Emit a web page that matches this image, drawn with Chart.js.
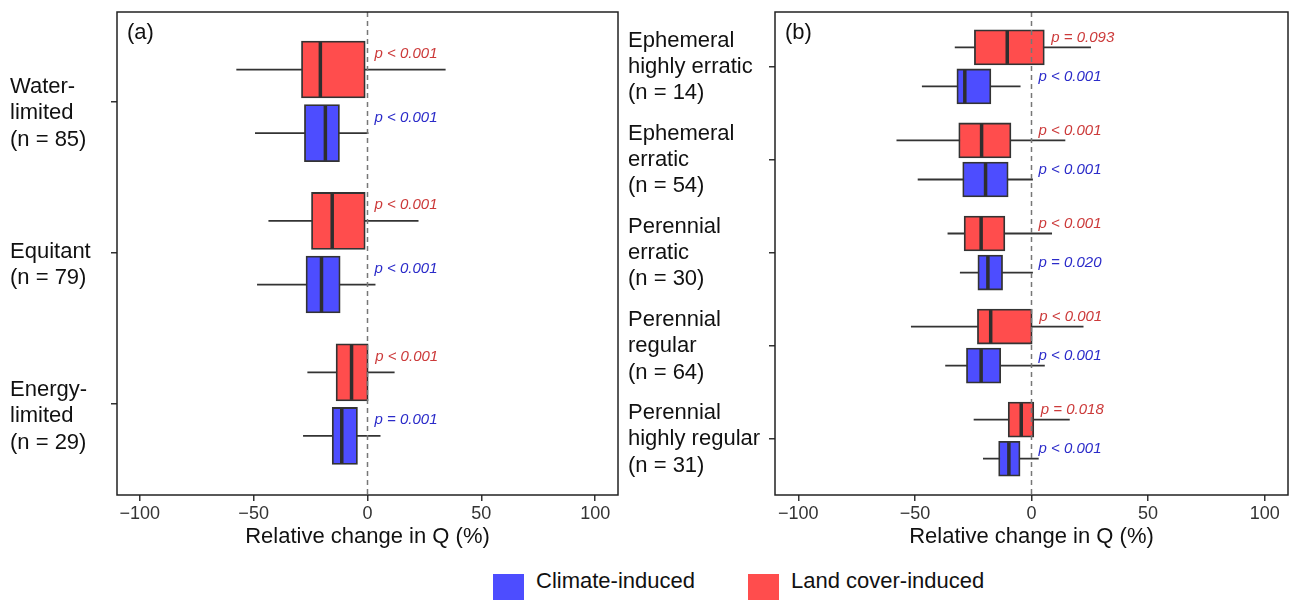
<!DOCTYPE html>
<html>
<head>
<meta charset="utf-8">
<script src="https://cdn.jsdelivr.net/npm/chart.js@4.4.0/dist/chart.umd.min.js"></script>
<style>
  body { margin: 0; background: #fff; font-family: "Liberation Sans", Arial, sans-serif; }
  #wrap { position: relative; width: 1291px; height: 600px; overflow: hidden; }
  #chartA { position: absolute; left: 0; top: 0; }
  #chartB { position: absolute; left: 622px; top: 0; }
  #legend { position: absolute; left: 493px; top: 568px; display: flex; font-size: 22px; color: #111; }
  .item { display: flex; align-items: flex-start; margin-right: 53px; }
  .swatch { width: 31px; height: 28px; margin-top: 6px; margin-right: 12px; }
</style>
</head>
<body>
<div id="wrap">
  <canvas id="chartA" width="622" height="550"></canvas>
  <canvas id="chartB" width="669" height="550"></canvas>
  <div id="legend"></div>
</div>
<script>
const seriesNames = ['Climate-induced', 'Land cover-induced'];
const seriesColors = ['rgb(77, 77, 255)', 'rgb(255, 77, 77)'];
const pColors = ['#2b2bc9', '#cc3a3a'];
const xTicks = [-100, -50, 0, 50, 100];

// (a) aridity classes
const catsA = [['Water-', 'limited', '(n = 85)'], ['Equitant', '(n = 79)'], ['Energy-', 'limited', '(n = 29)']];
// whisker low, Q1, median, Q3, whisker high
const climateA = [
  [-49.4, -27.7, -18.5, -12.3, 0.4],
  [-48.5, -27.0, -20.2, -12.0, 3.5],
  [-28.3, -15.5, -11.3, -4.4, 5.7]
];
const landA = [
  [-57.6, -29.0, -20.7, -1.0, 34.3],
  [-43.5, -24.6, -15.5, -1.0, 22.4],
  [-26.4, -13.8, -7.0, 0.3, 11.9]
];
const pClimateA = ['p < 0.001', 'p < 0.001', 'p = 0.001'];
const pLandA = ['p < 0.001', 'p < 0.001', 'p < 0.001'];

// (b) flow regime classes
const catsB = [
  ['Ephemeral', 'highly erratic', '(n = 14)'],
  ['Ephemeral', 'erratic', '(n = 54)'],
  ['Perennial', 'erratic', '(n = 30)'],
  ['Perennial', 'regular', '(n = 64)'],
  ['Perennial', 'highly regular', '(n = 31)']
];
const climateB = [
  [-47.0, -32.0, -28.6, -17.4, -4.7],
  [-48.8, -29.5, -19.7, -10.0, 0.6],
  [-30.7, -23.0, -18.7, -12.4, 0.6],
  [-37.0, -27.9, -21.6, -13.2, 5.7],
  [-20.8, -14.1, -9.7, -4.9, 3.1]
];
const landB = [
  [-32.9, -24.5, -10.4, 5.5, 25.5],
  [-57.9, -31.2, -21.4, -8.8, 14.5],
  [-36.0, -28.9, -21.6, -11.4, 8.8],
  [-51.7, -23.2, -17.5, 0.3, 22.3],
  [-24.8, -10.0, -4.4, 1.0, 16.4]
];
const pClimateB = ['p < 0.001', 'p < 0.001', 'p = 0.020', 'p < 0.001', 'p < 0.001'];
const pLandB = ['p = 0.093', 'p < 0.001', 'p < 0.001', 'p < 0.001', 'p = 0.018'];

Chart.defaults.font.family = '"Liberation Sans", Arial, sans-serif';
Chart.defaults.color = '#222';

// whiskers, medians, zero line, p labels and frame
const boxExtras = {
  id: 'boxExtras',
  beforeDatasetsDraw(chart) {
    const {ctx, scales: {x, y}} = chart;
    ctx.save();
    ctx.strokeStyle = '#333';
    ctx.lineWidth = 1.8;
    chart.data.datasets.forEach(ds => {
      ds.stats.forEach((s, i) => {
        const py = y.getPixelForValue(ds.data[i].y);
        ctx.beginPath();
        ctx.moveTo(x.getPixelForValue(s[0]), py);
        ctx.lineTo(x.getPixelForValue(s[4]), py);
        ctx.stroke();
      });
    });
    ctx.restore();
  },
  afterDatasetsDraw(chart, args, opts) {
    const {ctx, chartArea, scales: {x, y}} = chart;
    ctx.save();
    chart.data.datasets.forEach(ds => {
      const half = ds.barThickness / 2;
      ds.stats.forEach((s, i) => {
        const py = y.getPixelForValue(ds.data[i].y);
        const mx = x.getPixelForValue(s[2]);
        ctx.strokeStyle = '#2e2e2e';
        ctx.lineWidth = 3.5;
        ctx.beginPath();
        ctx.moveTo(mx, py - half + 1);
        ctx.lineTo(mx, py + half - 1);
        ctx.stroke();
      });
    });
    // dashed zero line
    const zx = x.getPixelForValue(0);
    ctx.strokeStyle = '#777';
    ctx.lineWidth = 1.5;
    ctx.setLineDash([5, 4]);
    ctx.beginPath();
    ctx.moveTo(zx, chartArea.top);
    ctx.lineTo(zx, chartArea.bottom);
    ctx.stroke();
    ctx.setLineDash([]);
    // p values
    ctx.font = 'italic 15px "Liberation Sans", Arial, sans-serif';
    ctx.textAlign = 'left';
    ctx.textBaseline = 'middle';
    chart.data.datasets.forEach(ds => {
      const half = ds.barThickness / 2;
      ctx.fillStyle = ds.pColor;
      ds.stats.forEach((s, i) => {
        const py = y.getPixelForValue(ds.data[i].y);
        ctx.fillText(ds.pvals[i], x.getPixelForValue(Math.max(s[3], 0)) + 7, py - 0.55 * half);
      });
    });
    // panel label
    ctx.fillStyle = '#111';
    ctx.font = '22px "Liberation Sans", Arial, sans-serif';
    ctx.fillText(opts.label, chartArea.left + 10, chartArea.top + 21);
    ctx.restore();
  },
  afterDraw(chart) {
    const {ctx, chartArea} = chart;
    ctx.save();
    ctx.strokeStyle = '#222';
    ctx.lineWidth = 1.5;
    ctx.strokeRect(chartArea.left, chartArea.top, chartArea.right - chartArea.left, chartArea.bottom - chartArea.top);
    ctx.restore();
  }
};

function createPanel(id, label, cats, climate, land, pClimate, pLand, boxPx, pad, yWidth, labelShift) {
  const dodge = 0.21;
  new Chart(document.getElementById(id), {
    type: 'bar',
    data: {
      datasets: [{
        label: seriesNames[1],
        data: land.map((s, i) => ({x: [s[1], s[3]], y: i + 1 - dodge})),
        stats: land, pvals: pLand, pColor: pColors[1],
        backgroundColor: seriesColors[1],
        borderColor: '#333', borderWidth: 1.8, borderSkipped: false,
        barThickness: boxPx, grouped: false
      }, {
        label: seriesNames[0],
        data: climate.map((s, i) => ({x: [s[1], s[3]], y: i + 1 + dodge})),
        stats: climate, pvals: pClimate, pColor: pColors[0],
        backgroundColor: seriesColors[0],
        borderColor: '#333', borderWidth: 1.8, borderSkipped: false,
        barThickness: boxPx, grouped: false
      }]
    },
    options: {
      indexAxis: 'y',
      responsive: false,
      animation: false,
      devicePixelRatio: 1,
      layout: {padding: pad},
      plugins: {
        legend: {display: false},
        tooltip: {enabled: false},
        boxExtras: {label: label}
      },
      scales: {
        x: {
          type: 'linear', min: -110, max: 110,
          afterBuildTicks: s => { s.ticks = xTicks.map(v => ({value: v})); },
          afterFit: s => { s.height = 55; s.paddingLeft = 0; s.paddingRight = 0; },
          grid: {drawOnChartArea: false, drawTicks: true, tickLength: 6, color: '#333', lineWidth: 1.5},
          border: {display: false},
          ticks: {
            font: {size: 18}, color: '#333', padding: 2, autoSkip: false, maxRotation: 0,
            callback: v => String(v).replace('-', '\u2212')
          },
          title: {display: true, text: 'Relative change in Q (%)', font: {size: 22}, color: '#111', padding: 0}
        },
        y: {
          type: 'linear', min: 0.41, max: cats.length + 0.6, reverse: true, offset: false,
          afterBuildTicks: s => { s.ticks = cats.map((c, i) => ({value: i + 1})); },
          afterFit: s => { s.width = yWidth; s.paddingTop = 0; s.paddingBottom = 0; },
          grid: {offset: false, drawOnChartArea: false, drawTicks: true, tickLength: 6, color: '#333', lineWidth: 1.5},
          border: {display: false},
          ticks: {
            font: {size: 22, lineHeight: 1.2}, color: '#111', crossAlign: 'far', autoSkip: false,
            labelOffset: labelShift,
            callback: (v, i) => cats[i]
          }
        }
      }
    },
    plugins: [boxExtras]
  });
}

createPanel('chartA', '(a)', catsA, climateA, landA, pClimateA, pLandA, 57,
  {left: 10, top: 12, right: 4, bottom: 0}, 107, 12);
createPanel('chartB', '(b)', catsB, climateB, landB, pClimateB, pLandB, 35,
  {left: 6, top: 12, right: 3, bottom: 0}, 147, 0);

// legend
const legend = document.getElementById('legend');
[0, 1].forEach(k => {
  const item = document.createElement('div');
  item.className = 'item';
  const sw = document.createElement('div');
  sw.className = 'swatch';
  sw.style.background = seriesColors[k];
  const txt = document.createElement('span');
  txt.textContent = seriesNames[k];
  item.appendChild(sw);
  item.appendChild(txt);
  legend.appendChild(item);
});
</script>
</body>
</html>
